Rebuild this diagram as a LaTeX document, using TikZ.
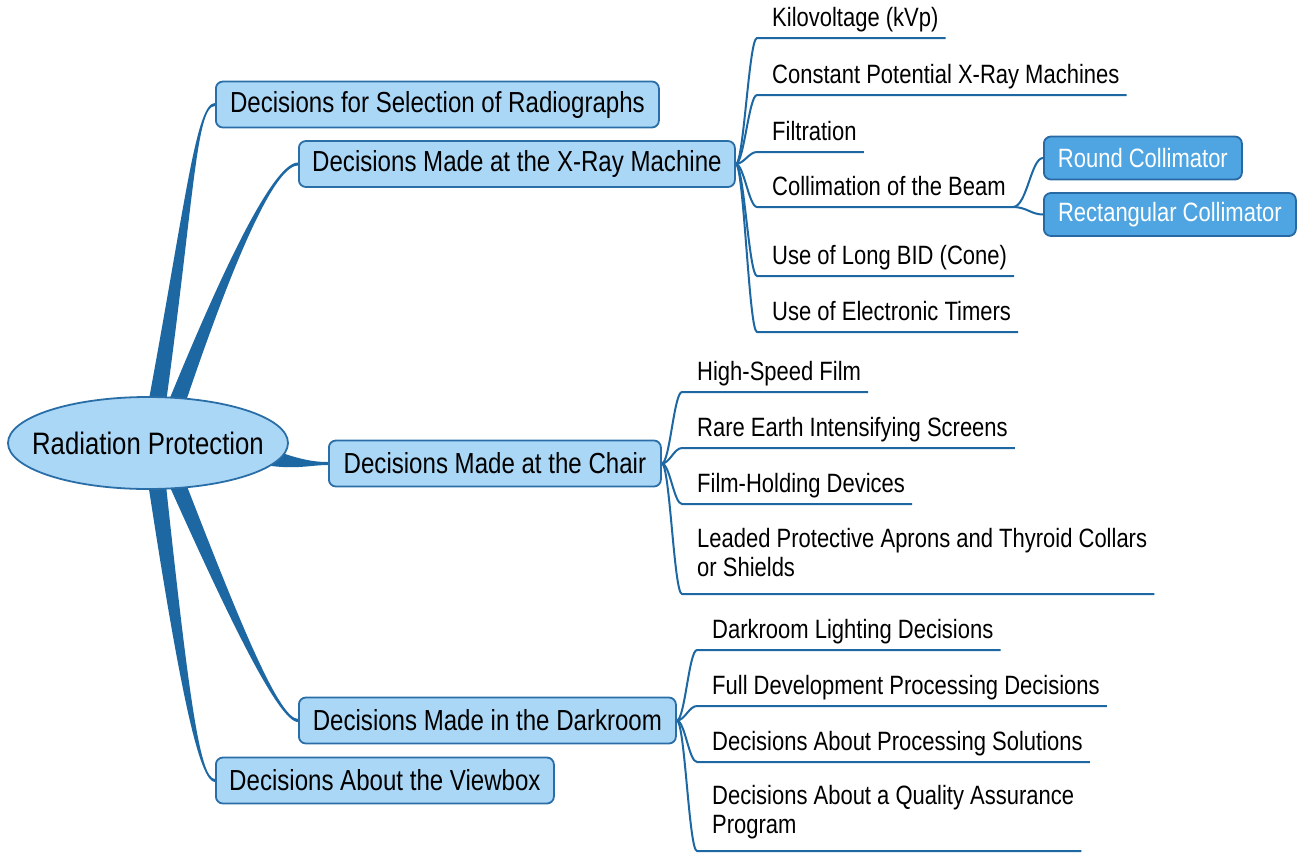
\documentclass[tikz,border=0pt]{standalone}
\usepackage{fontspec}
\setmainfont[FakeStretch=0.83]{Liberation Sans}
\usetikzlibrary{shapes.geometric,calc}
\definecolor{edgecol}{HTML}{1D68A2}
\definecolor{boxfill}{HTML}{ABD7F6}
\definecolor{boxline}{HTML}{2A6EA8}
\definecolor{subfill}{HTML}{4EA5E2}
\definecolor{subline}{HTML}{2868A3}
\newcommand{\lstrut}{\rule[-7pt]{0pt}{7pt}}
\newcommand{\mstrut}{\rule[-13pt]{0pt}{13pt}}
\pgfdeclarelayer{background}
\pgfsetlayers{background,main}
\newcommand{\taperup}[6]{\fill[trunk] ($(#1)+(-#5,0)$) .. controls ($(#2)+(-#6,0)$) and ($(#3)+(0,-1.5)$) .. ($(#4)+(0,-1.5)$) -- ($(#4)+(0,1.5)$) .. controls ($(#3)+(0,1.5)$) and ($(#2)+(#6,0)$) .. ($(#1)+(#5,0)$) -- cycle;}
\newcommand{\taperdown}[6]{\fill[trunk] ($(#1)+(#5,0)$) .. controls ($(#2)+(#6,0)$) and ($(#3)+(0,-1.5)$) .. ($(#4)+(0,-1.5)$) -- ($(#4)+(0,1.5)$) .. controls ($(#3)+(0,1.5)$) and ($(#2)+(-#6,0)$) .. ($(#1)+(-#5,0)$) -- cycle;}
\begin{document}
\begin{tikzpicture}[x=1pt,y=-1pt,
  rootnode/.style={ellipse, draw=boxline, line width=1.8pt, fill=boxfill, minimum width=280pt, minimum height=92pt, inner sep=0pt, font=\fontsize{31}{36}\selectfont},
  mainbox/.style={rectangle, rounded corners=7pt, draw=boxline, line width=1.8pt, fill=boxfill, minimum height=46pt, inner xsep=0pt, anchor=west, font=\fontsize{29}{34}\selectfont},
  subbox/.style={rectangle, rounded corners=7pt, draw=subline, line width=1.8pt, fill=subfill, text=white, minimum height=43pt, inner xsep=0pt, anchor=west, font=\fontsize{26.5}{31}\selectfont},
  leaf/.style={anchor=south west, inner xsep=15pt, inner ysep=4pt, align=left, font=\fontsize{26.5}{29.5}\selectfont},
  branch/.style={draw=edgecol, line width=2pt},
  trunk/.style={fill=edgecol},
]
\useasboundingbox (0,0) rectangle (1306,852);

% root and main boxes
\node[rootnode] (root) at (148,443) {\makebox[0pt]{Radiation Protection}};
\node[mainbox, minimum width=443pt] (b1) at (215,104.5) {Decisions for Selection of Radiographs};
\node[mainbox, minimum width=436pt] (b2) at (298,164) {Decisions Made at the X-Ray Machine};
\node[mainbox, minimum width=332pt] (b3) at (328,463.5) {Decisions Made at the Chair};
\node[mainbox, minimum width=377pt] (b4) at (298,720.5) {Decisions Made in the Darkroom};
\node[mainbox, minimum width=338pt] (b5) at (215,780.5) {Decisions About the Viewbox};

% X-ray machine leaves
\node[leaf] (x1) at (757,38) {Kilovoltage (kVp)\lstrut};
\node[leaf] (x2) at (757,95) {Constant Potential X-Ray Machines\lstrut};
\node[leaf] (x3) at (757,152) {Filtration\lstrut};
\node[leaf] (x4) at (757,207) {Collimation of the Beam\lstrut};
\node[leaf] (x5) at (757,276) {Use of Long BID (Cone)\lstrut};
\node[leaf] (x6) at (757,332) {Use of Electronic Timers\lstrut};
\node[subbox, minimum width=198pt] (r1) at (1043,158) {Round Collimator};
\node[subbox, minimum width=252pt] (r2) at (1043,214.5) {Rectangular Collimator};

% chair leaves
\node[leaf] (c1) at (682,392) {High-Speed Film\lstrut};
\node[leaf] (c2) at (682,448) {Rare Earth Intensifying Screens\lstrut};
\node[leaf] (c3) at (682,504) {Film-Holding Devices\lstrut};
\node[leaf] (c4) at (682,594) {Leaded Protective Aprons and Thyroid Collars\\or Shields\mstrut};

% darkroom leaves
\node[leaf] (d1) at (697,650) {Darkroom Lighting Decisions\lstrut};
\node[leaf] (d2) at (697,706) {Full Development Processing Decisions\lstrut};
\node[leaf] (d3) at (697,762) {Decisions About Processing Solutions\lstrut};
\node[leaf] (d4) at (697,851) {Decisions About a Quality Assurance\\Program\mstrut};

\begin{pgfonlayer}{background}
  % tapered trunks from the root
  \coordinate (s1) at ($(root.center)+(8,-33)$);
  \coordinate (s2) at ($(root.center)+(26,-33)$);
  \coordinate (s4) at ($(root.center)+(26,33)$);
  \coordinate (s5) at ($(root.center)+(8,33)$);
  \coordinate (k1) at (190,200);  \coordinate (m1) at (196,104.5);
  \coordinate (k2) at (215,300);  \coordinate (m2) at (270,164);
  \coordinate (k4) at (230,610);  \coordinate (m4) at (278,720.5);
  \coordinate (k5) at (185,700);  \coordinate (m5) at (200,780.5);
  \taperup{s1}{k1}{m1}{b1.west}{9}{4}
  \taperup{s2}{k2}{m2}{b2.west}{9}{5}
  \taperdown{s4}{k4}{m4}{b4.west}{9}{5}
  \taperdown{s5}{k5}{m5}{b5.west}{9}{4}
  \fill[trunk] ($(root.center)+(117,4)$) .. controls (295,458) and (310,462) .. ($(b3.west)+(0,-1.5)$)
     -- ($(b3.west)+(0,1.5)$) .. controls (310,465) and (295,470) .. ($(root.center)+(117,22)$) -- cycle;

  % branches
  \foreach \n in {x1,x2,x3,x4,x5,x6}
    \draw[branch] (b2.east) .. controls +(8,0) and +(-8,0) .. (\n.south west) -- ($(\n.south east)+(-8,0)$);
  \foreach \n in {c1,c2,c3,c4}
    \draw[branch] (b3.east) .. controls +(8,0) and +(-8,0) .. (\n.south west) -- ($(\n.south east)+(-8,0)$);
  \foreach \n in {d1,d2,d3,d4}
    \draw[branch] (b4.east) .. controls +(8,0) and +(-8,0) .. (\n.south west) -- ($(\n.south east)+(-8,0)$);
  \draw[branch] ($(x4.south east)+(-8,0)$) .. controls +(14,0) and +(-12,0) .. (r1.west);
  \draw[branch] ($(x4.south east)+(-8,0)$) .. controls +(14,0) and +(-12,0) .. (r2.west);
\end{pgfonlayer}
\end{tikzpicture}
\end{document}
